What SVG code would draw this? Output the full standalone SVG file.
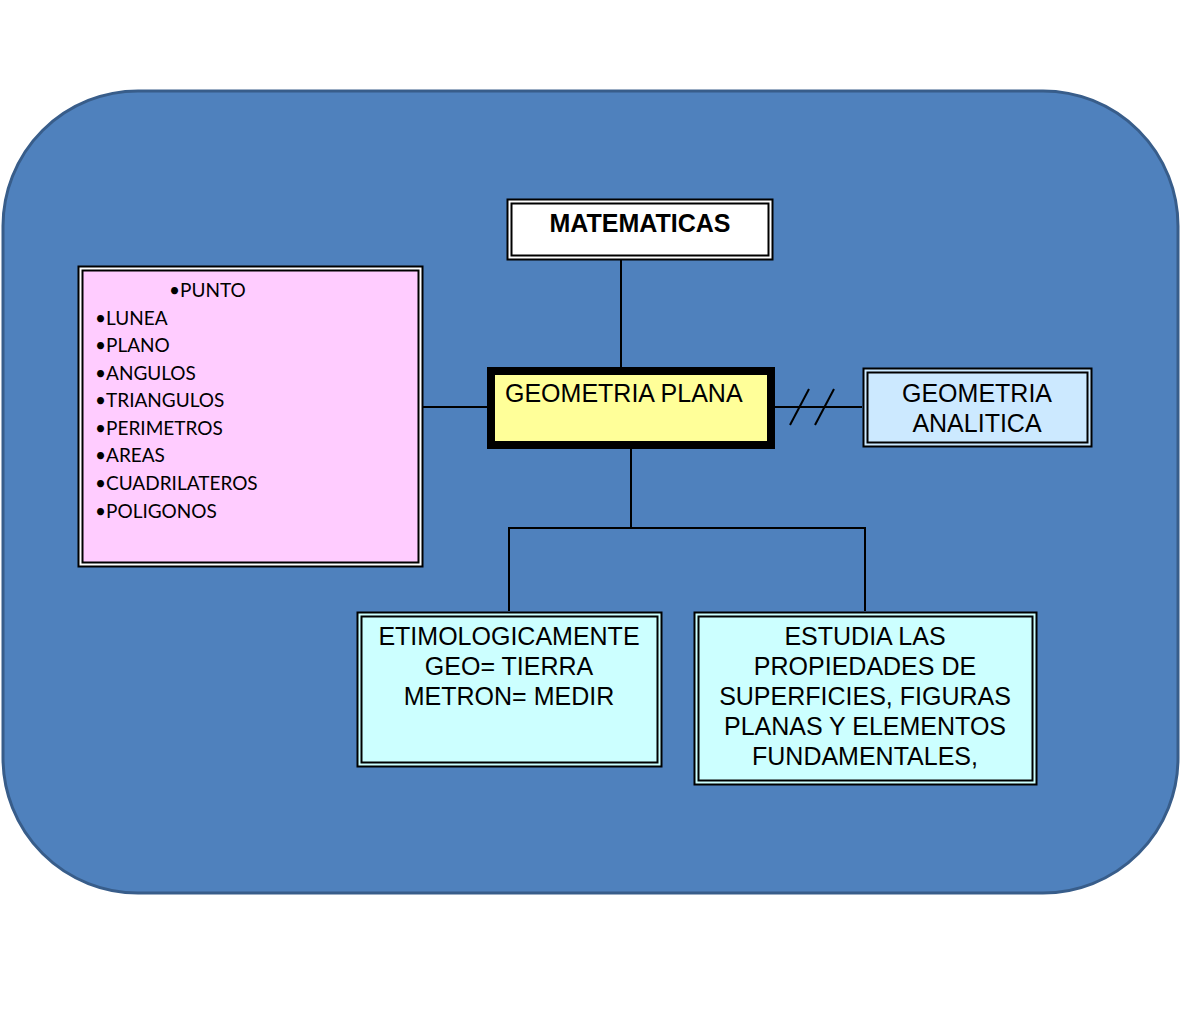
<svg xmlns="http://www.w3.org/2000/svg" width="1181" height="1009" viewBox="0 0 1181 1009">
<style>
.dbl-out{fill:none;stroke:#000;stroke-width:2}
.dbl-gap{fill:none;stroke:#fff;stroke-width:3}
.t{font-family:"Liberation Sans",Arial,sans-serif;font-size:25px;fill:#000}
.c{text-anchor:middle}
.list{font-family:"Lato","Open Sans",sans-serif;font-size:19px;fill:#000}
.ln{stroke:#000;stroke-width:2;fill:none}
</style>
<rect width="1181" height="1009" fill="#fff"/>
<rect x="3" y="91" width="1175" height="802" rx="135" ry="135" fill="#4F81BD" stroke="#385D8A" stroke-width="3"/>
<g id="connectors">
<line class="ln" x1="621" y1="260" x2="621" y2="367"/>
<line class="ln" x1="422" y1="407" x2="487" y2="407"/>
<line class="ln" x1="775" y1="407" x2="862" y2="407"/>
<line class="ln" x1="790" y1="425" x2="809" y2="389"/>
<line class="ln" x1="815" y1="425" x2="834" y2="389"/>
<polyline class="ln" points="631,449 631,528"/>
<polyline class="ln" points="509,611 509,528 865,528 865,611"/>
</g>
<g id="lista">
<rect x="79" y="267" width="343" height="299" fill="#FFCCFF"/>
<rect class="dbl-gap" x="80.5" y="268.5" width="340" height="296"/>
<rect class="dbl-out" x="78.5" y="266.5" width="344" height="300"/>
<rect class="dbl-out" x="82.5" y="270.5" width="336" height="292"/>
<text class="list" x="169" y="297">•PUNTO</text>
<text class="list" x="95" y="325">•LUNEA</text>
<text class="list" x="95" y="352">•PLANO</text>
<text class="list" x="95" y="380">•ANGULOS</text>
<text class="list" x="95" y="407">•TRIANGULOS</text>
<text class="list" x="95" y="435">•PERIMETROS</text>
<text class="list" x="95" y="462">•AREAS</text>
<text class="list" x="95" y="490">•CUADRILATEROS</text>
<text class="list" x="95" y="518">•POLIGONOS</text>
</g>
<g id="matematicas">
<rect x="507" y="199" width="266" height="61" fill="#fff"/>
<rect class="dbl-out" x="507.5" y="199.5" width="265" height="60"/>
<rect class="dbl-out" x="511.5" y="203.5" width="257" height="52"/>
<text class="t c" x="640" y="232" font-weight="bold">MATEMATICAS</text>
</g>
<g id="geometria-plana">
<rect x="491" y="371" width="280" height="74" fill="#FFFF99" stroke="#000" stroke-width="8"/>
<text class="t" x="505" y="402">GEOMETRIA PLANA</text>
</g>
<g id="geometria-analitica">
<rect x="863" y="368" width="229" height="79" fill="#CCE9FF"/>
<rect class="dbl-out" x="863.5" y="368.5" width="228" height="78"/>
<rect class="dbl-out" x="867.5" y="372.5" width="220" height="70"/>
<text class="t c" x="977" y="402">GEOMETRIA</text>
<text class="t c" x="977" y="432">ANALITICA</text>
</g>
<g id="etimologia">
<rect x="357" y="612" width="305" height="155" fill="#CCFFFF"/>
<rect class="dbl-out" x="357.5" y="612.5" width="304" height="154"/>
<rect class="dbl-out" x="361.5" y="616.5" width="296" height="146"/>
<text class="t c" x="509" y="645">ETIMOLOGICAMENTE</text>
<text class="t c" x="509" y="675">GEO= TIERRA</text>
<text class="t c" x="509" y="705">METRON= MEDIR</text>
</g>
<g id="estudia">
<rect x="694" y="612" width="343" height="173" fill="#CCFFFF"/>
<rect class="dbl-out" x="694.5" y="612.5" width="342" height="172"/>
<rect class="dbl-out" x="698.5" y="616.5" width="334" height="164"/>
<text class="t c" x="865" y="645">ESTUDIA LAS</text>
<text class="t c" x="865" y="675">PROPIEDADES DE</text>
<text class="t c" x="865" y="705">SUPERFICIES, FIGURAS</text>
<text class="t c" x="865" y="735">PLANAS Y ELEMENTOS</text>
<text class="t c" x="865" y="765">FUNDAMENTALES,</text>
</g>
</svg>
